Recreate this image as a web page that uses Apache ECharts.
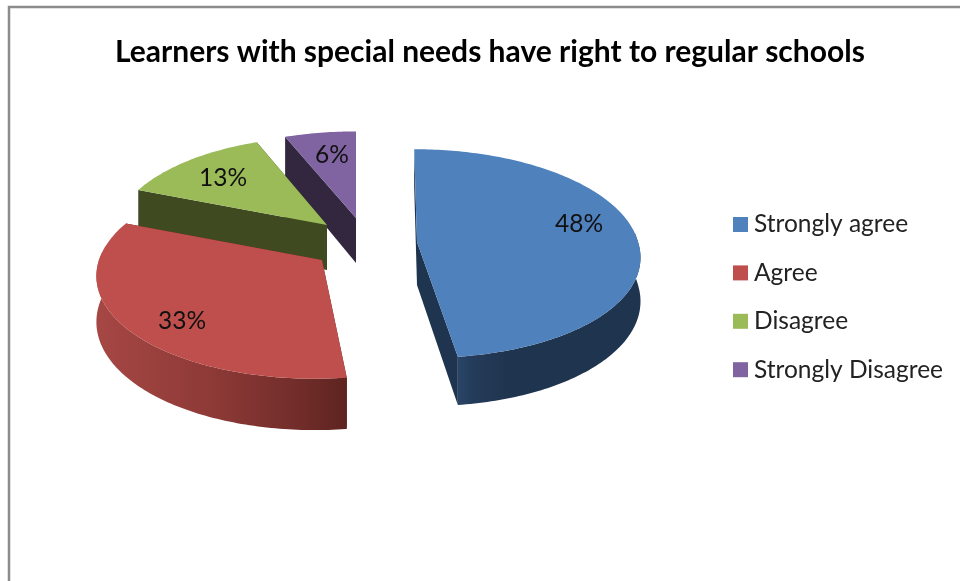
<!DOCTYPE html>
<html>
<head>
<meta charset="utf-8">
<style>html,body{margin:0;padding:0;background:#fff}#chart{width:960px;height:581px}</style>
<script src="https://cdn.jsdelivr.net/npm/echarts@6/dist/echarts.min.js"></script>
</head>
<body>
<div id="chart"></div>
<script>
const titleText = 'Learners with special needs have right to regular schools';
const categories = ['Strongly agree', 'Agree', 'Disagree', 'Strongly Disagree'];
const values = [48, 33, 13, 6];
const colors = ['#4F81BD', '#BE4F4C', '#9BBB59', '#8064A2'];

// Projection of each exploded slice: apex, radii, perspective, skew, depth
const sliceLayout = [
  {ax: 417, ay: 242, rx: 221, ry: 103, k: 0.11, skewNear: 0.085, skewFar: 0.03, depth: 43, label: [162, -18],
   side: '#1F344E', wall: [[0, '#1F344E'], [0.72, '#1F344E'], [0.92, '#243C5B'], [1, '#2A4568']], wallDir: 1},
  {ax: 322, ay: 260, rx: 223, ry: 104, k: 0.124, skewNear: -0.06, skewFar: -0.06, depth: 45, label: [-140, 61],
   side: '#5E2420', wall: [[0, '#A64744'], [0.45, '#8E3A37'], [0.8, '#722D2A'], [1, '#5E2420']], wallDir: 0},
  {ax: 327, ay: 225, rx: 212, ry: 99, k: 0.12, skewNear: 0, skewFar: 0, depth: 45, label: [-104, -47],
   side: '#3F4A20', wall: [[0, '#3F4A20'], [1, '#3F4A20']], wallDir: 0},
  {ax: 356, ay: 218, rx: 214, ry: 97, k: 0.12, skewNear: 0, skewFar: 0, depth: 45, label: [-24, -63],
   side: '#33263F', wall: [[0, '#33263F'], [1, '#33263F']], wallDir: 0}
];

const total = values.reduce((a, b) => a + b, 0);
const rad = d => d * Math.PI / 180;

function project(l, deg, r, drop) {
  const u = Math.sin(rad(deg)) * r, v = -Math.cos(rad(deg)) * r;
  const w = 1 - l.k * v;
  const y = l.ry * v / w;
  return [l.ax + l.rx * u / w + (y > 0 ? l.skewNear : l.skewFar) * y, l.ay + y + (drop ? l.depth / w : 0)];
}
function arc(l, from, to, drop) {
  const pts = [], step = to >= from ? 1 : -1, n = Math.ceil(Math.abs(to - from));
  for (let i = 0; i <= n; i++) {
    pts.push(project(l, i === n ? to : from + i * step, 1, drop));
  }
  return pts;
}
function poly(points, fill, z2) {
  return {type: 'polygon', z2: z2, silent: true, shape: {points: points}, style: {fill: fill, stroke: null}};
}

function renderSlice(i) {
  return function () {
    const l = sliceLayout[i];
    let start = 0;
    for (let j = 0; j < i; j++) start += values[j] / total * 360;
    const end = start + values[i] / total * 360;
    const apex = project(l, 0, 0, false), apexLow = project(l, 0, 0, true);
    const kids = [];
    const radial = a => [apex, project(l, a, 1, false), project(l, a, 1, true), apexLow];
    kids.push(poly(radial(end), l.side, 1));
    kids.push(poly(radial(start), l.side, 2));
    const ws = Math.max(start, 85), we = Math.min(end, 275);
    if (we > ws) {
      const wallFill = new echarts.graphic.LinearGradient(
        l.wallDir ? 1 : 0, 0, l.wallDir ? 0 : 1, 0,
        l.wall.map(s => ({offset: s[0], color: s[1]})));
      kids.push(poly(arc(l, ws, we, false).concat(arc(l, we, ws, true)), wallFill, 3));
    }
    kids.push(poly([apex].concat(arc(l, start, end, false)), colors[i], 4));
    kids.push({type: 'text', z2: 5, silent: true, style: {
      x: l.ax + l.label[0], y: l.ay + l.label[1],
      text: values[i] + '%', fill: '#111', font: '24.5px Lato',
      align: 'center', verticalAlign: 'middle'
    }});
    return {type: 'group', children: kids};
  };
}

const chart = echarts.init(document.getElementById('chart'), null, {renderer: 'canvas'});
chart.setOption({
  animation: false,
  backgroundColor: '#fff',
  title: {
    text: titleText, left: 110, top: 32,
    textStyle: {fontFamily: 'Lato', fontWeight: 'bold', fontSize: 30, color: '#000'}
  },
  legend: {
    orient: 'vertical', left: 728, top: 207, itemWidth: 15, itemHeight: 15, itemGap: 23.4,
    icon: 'rect', data: categories, selectedMode: false,
    textStyle: {fontFamily: 'Lato', fontSize: 24.5, color: '#222', padding: [0, 0, 0, 1], lineHeight: 24}
  },
  graphic: [{
    type: 'polyline', silent: true, z: -1,
    shape: {points: [[9, 581], [9, 7], [960, 7]]},
    style: {stroke: '#8C8C8C', lineWidth: 2.5, fill: null}
  }],
  series: categories.map((name, i) => ({
    name: name, type: 'custom', coordinateSystem: 'none',
    z: i === 1 ? 4 : (i === 0 ? 3 : (i === 2 ? 2 : 1)),
    clip: false, silent: true,
    itemStyle: {color: colors[i]},
    data: [[values[i]]],
    renderItem: renderSlice(i)
  }))
});
</script>
</body>
</html>
